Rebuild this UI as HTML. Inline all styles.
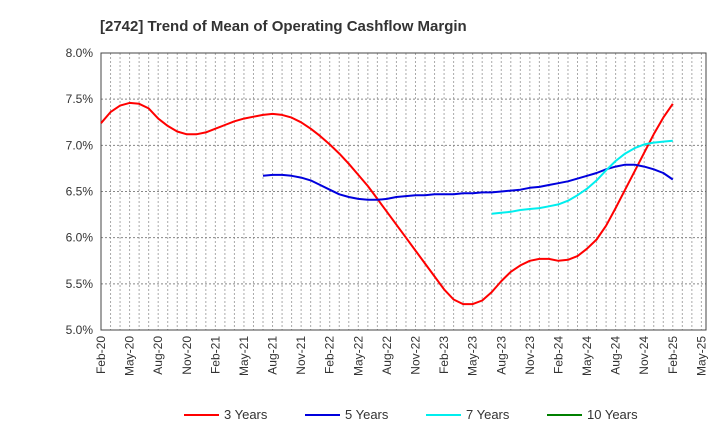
<!DOCTYPE html>
<html><head><meta charset="utf-8"><style>
body{margin:0;background:#fff;font-family:"Liberation Sans",sans-serif;}
svg text{font-family:"Liberation Sans",sans-serif;}
</style></head><body>
<svg id="chart" width="720" height="440" xmlns="http://www.w3.org/2000/svg">
<text x="100" y="31" font-size="15" font-weight="bold" fill="#333">[2742]  Trend of Mean of Operating Cashflow Margin</text>
<g id="grid"></g><g id="axes"></g><g id="series"></g><g id="legend"></g>
</svg>
<script>
const yTicks=[5.0,5.5,6.0,6.5,7.0,7.5,8.0];
const xTickLabels=["Feb-20","May-20","Aug-20","Nov-20","Feb-21","May-21","Aug-21","Nov-21","Feb-22","May-22","Aug-22","Nov-22","Feb-23","May-23","Aug-23","Nov-23","Feb-24","May-24","Aug-24","Nov-24","Feb-25","May-25"];
const y3=[7.24,7.36,7.43,7.46,7.45,7.40,7.29,7.21,7.15,7.12,7.12,7.14,7.18,7.22,7.26,7.29,7.31,7.33,7.34,7.33,7.30,7.25,7.18,7.10,7.01,6.91,6.80,6.68,6.56,6.42,6.28,6.14,6.00,5.86,5.72,5.58,5.44,5.33,5.28,5.28,5.32,5.41,5.53,5.63,5.70,5.75,5.77,5.77,5.75,5.76,5.80,5.88,5.98,6.13,6.32,6.52,6.72,6.92,7.12,7.30,7.45];
const y5start=17;
const y5=[6.67,6.68,6.68,6.67,6.65,6.62,6.57,6.52,6.47,6.44,6.42,6.41,6.41,6.42,6.44,6.45,6.46,6.46,6.47,6.47,6.47,6.48,6.48,6.49,6.49,6.50,6.51,6.52,6.54,6.55,6.57,6.59,6.61,6.64,6.67,6.70,6.74,6.77,6.79,6.79,6.77,6.74,6.70,6.63];
const y7start=41;
const y7=[6.26,6.27,6.28,6.30,6.31,6.32,6.34,6.36,6.40,6.46,6.53,6.62,6.73,6.83,6.91,6.97,7.01,7.03,7.04,7.05];
const L=101,R=706,T=53,B=330,NM=63,STEP=9.53;
const xs=i=>L+STEP*i;
const ys=v=>B-(v-5)/3*(B-T);
const NS="http://www.w3.org/2000/svg";
function mk(tag,attrs,parent,txt){const e=document.createElementNS(NS,tag);for(const k in attrs)e.setAttribute(k,attrs[k]);if(txt!==undefined)e.textContent=txt;parent.appendChild(e);return e;}
const grid=document.getElementById('grid'),axes=document.getElementById('axes'),ser=document.getElementById('series'),leg=document.getElementById('legend');
for(let i=1;i<=NM;i++){const l=mk('line',{x1:xs(i),x2:xs(i),y1:T,y2:B,stroke:'#aaa','stroke-dasharray':'2,2','stroke-width':1},grid);

}
yTicks.forEach(v=>{const l=mk('line',{x1:L,x2:R,y1:ys(v),y2:ys(v),stroke:'#888','stroke-dasharray':'2,2','stroke-width':1},grid);


const t=mk('text',{x:L-8,y:ys(v)+4,'text-anchor':'end','font-size':12,fill:'#333'},axes,v.toFixed(1)+'%');

});
const fr=mk('rect',{x:L,y:T,width:R-L,height:B-T,fill:'none',stroke:'#444','stroke-width':1},axes);


xTickLabels.forEach((s,i)=>{const x=xs(i*3);const t=mk('text',{transform:`translate(${x+4},${B+6}) rotate(-90)`,'text-anchor':'end','font-size':12,fill:'#333'},axes,s);

});
function line(vals,start,color,name){const pts=vals.map((v,i)=>xs(start+i).toFixed(1)+','+ys(v).toFixed(1)).join(' ');
const p=mk('polyline',{points:pts,fill:'none',stroke:color,'stroke-width':2,'stroke-linejoin':'round'},ser);

}
line(y3,0,'#ff0000','line-3-years');
line(y5,y5start,'#0000dd','line-5-years');
line(y7,y7start,'#00eeee','line-7-years');
const legs=[["3 Years","#ff0000",184],["5 Years","#0000dd",305],["7 Years","#00eeee",426],["10 Years","#008000",547]];
legs.forEach(([n,c,x])=>{const g=mk('g',{},leg);


mk('line',{x1:x,x2:x+35,y1:415,y2:415,stroke:c,'stroke-width':2},g);
mk('text',{x:x+40,y:419,'font-size':13,fill:'#333'},g,n);});
</script>
</body></html>
